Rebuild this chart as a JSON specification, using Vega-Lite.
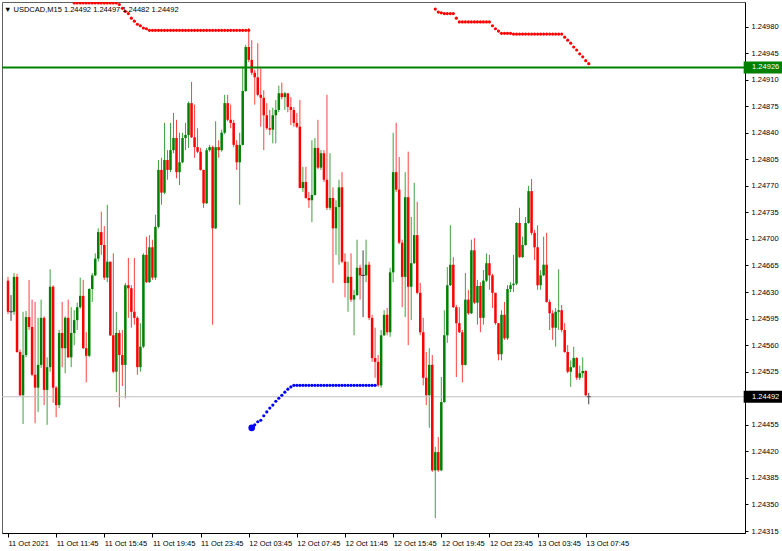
{
"$schema": "https://vega.github.io/schema/vega-lite/v6.json",
"width": 743,
"height": 531,
"autosize": "none",
"padding": {"left": 2, "top": 2, "right": 37, "bottom": 18},
"background": "#ffffff",
"config": {
  "view": {"stroke": "#606060", "strokeWidth": 1},
  "font": "Liberation Sans",
  "axis": {"labelFont": "Liberation Sans", "labelFontSize": 7.5, "labelColor": "#000000", "domainColor": "#000000", "tickColor": "#000000", "grid": false, "labelOverlap": false, "labelFlush": false, "labelBound": false}
},
"title": {"text": "▼  USDCAD,M15  1.24492 1.24497 1.24482 1.24492", "anchor": "start", "frame": "group", "orient": "top", "offset": -17, "baseline": "alphabetic", "dx": 2, "font": "Liberation Sans", "fontSize": 7.5, "fontWeight": "normal", "color": "#000000"},
"datasets": {
"candles": [
{"t":"2021-10-11T07:45Z","open":1.24645,"high":1.2465,"low":1.24601,"close":1.24604},
{"t":"2021-10-11T08:00Z","open":1.24604,"high":1.24626,"low":1.24592,"close":1.24604},
{"t":"2021-10-11T08:15Z","open":1.24604,"high":1.24655,"low":1.246,"close":1.2465},
{"t":"2021-10-11T08:30Z","open":1.2465,"high":1.24654,"low":1.2455,"close":1.24551},
{"t":"2021-10-11T08:45Z","open":1.24551,"high":1.24554,"low":1.24493,"close":1.24494},
{"t":"2021-10-11T09:00Z","open":1.24494,"high":1.24604,"low":1.24456,"close":1.24547},
{"t":"2021-10-11T09:15Z","open":1.24547,"high":1.24605,"low":1.24544,"close":1.24597},
{"t":"2021-10-11T09:30Z","open":1.24597,"high":1.24646,"low":1.2458,"close":1.24584},
{"t":"2021-10-11T09:45Z","open":1.24584,"high":1.2462,"low":1.24519,"close":1.24521},
{"t":"2021-10-11T10:00Z","open":1.24521,"high":1.24617,"low":1.24457,"close":1.24504},
{"t":"2021-10-11T10:15Z","open":1.24504,"high":1.24596,"low":1.24472,"close":1.24534},
{"t":"2021-10-11T10:30Z","open":1.24534,"high":1.2462,"low":1.2453,"close":1.24596},
{"t":"2021-10-11T10:45Z","open":1.24596,"high":1.24598,"low":1.24481,"close":1.24501},
{"t":"2021-10-11T11:00Z","open":1.24501,"high":1.24544,"low":1.24455,"close":1.24531},
{"t":"2021-10-11T11:15Z","open":1.24531,"high":1.2466,"low":1.24525,"close":1.24637},
{"t":"2021-10-11T11:30Z","open":1.24637,"high":1.24639,"low":1.24484,"close":1.24504},
{"t":"2021-10-11T11:45Z","open":1.24504,"high":1.24506,"low":1.24465,"close":1.24481},
{"t":"2021-10-11T12:00Z","open":1.24481,"high":1.2458,"low":1.24477,"close":1.24576},
{"t":"2021-10-11T12:15Z","open":1.24576,"high":1.24617,"low":1.24531,"close":1.24556},
{"t":"2021-10-11T12:30Z","open":1.24556,"high":1.24598,"low":1.24523,"close":1.24596},
{"t":"2021-10-11T12:45Z","open":1.24596,"high":1.2462,"low":1.24543,"close":1.24544},
{"t":"2021-10-11T13:00Z","open":1.24544,"high":1.2461,"low":1.24531,"close":1.24576},
{"t":"2021-10-11T13:15Z","open":1.24576,"high":1.24606,"low":1.2456,"close":1.24593},
{"t":"2021-10-11T13:30Z","open":1.24593,"high":1.24616,"low":1.2458,"close":1.2461},
{"t":"2021-10-11T13:45Z","open":1.2461,"high":1.24649,"low":1.24608,"close":1.24625},
{"t":"2021-10-11T14:00Z","open":1.24625,"high":1.24646,"low":1.24555,"close":1.24556},
{"t":"2021-10-11T14:15Z","open":1.24556,"high":1.24577,"low":1.24511,"close":1.24546},
{"t":"2021-10-11T14:30Z","open":1.24546,"high":1.24635,"low":1.24544,"close":1.24634},
{"t":"2021-10-11T14:45Z","open":1.24634,"high":1.24655,"low":1.24617,"close":1.24652},
{"t":"2021-10-11T15:00Z","open":1.24652,"high":1.24681,"low":1.24651,"close":1.24674},
{"t":"2021-10-11T15:15Z","open":1.24674,"high":1.24714,"low":1.2467,"close":1.24709},
{"t":"2021-10-11T15:30Z","open":1.24709,"high":1.24736,"low":1.24679,"close":1.24692},
{"t":"2021-10-11T15:45Z","open":1.24692,"high":1.24717,"low":1.24646,"close":1.24649},
{"t":"2021-10-11T16:00Z","open":1.24649,"high":1.24745,"low":1.24643,"close":1.2467},
{"t":"2021-10-11T16:15Z","open":1.2467,"high":1.2467,"low":1.24572,"close":1.24573},
{"t":"2021-10-11T16:30Z","open":1.24573,"high":1.24681,"low":1.24523,"close":1.24525},
{"t":"2021-10-11T16:45Z","open":1.24525,"high":1.24604,"low":1.24498,"close":1.24576},
{"t":"2021-10-11T17:00Z","open":1.24576,"high":1.2458,"low":1.24478,"close":1.24547},
{"t":"2021-10-11T17:15Z","open":1.24547,"high":1.2458,"low":1.24506,"close":1.24534},
{"t":"2021-10-11T17:30Z","open":1.24534,"high":1.24642,"low":1.2449,"close":1.24639},
{"t":"2021-10-11T17:45Z","open":1.24639,"high":1.24675,"low":1.24596,"close":1.24635},
{"t":"2021-10-11T18:00Z","open":1.24635,"high":1.24639,"low":1.24583,"close":1.24604},
{"t":"2021-10-11T18:15Z","open":1.24604,"high":1.24675,"low":1.24587,"close":1.24596},
{"t":"2021-10-11T18:30Z","open":1.24596,"high":1.24598,"low":1.24521,"close":1.24531},
{"t":"2021-10-11T18:45Z","open":1.24531,"high":1.24589,"low":1.24525,"close":1.24558},
{"t":"2021-10-11T19:00Z","open":1.24558,"high":1.24681,"low":1.24556,"close":1.24679},
{"t":"2021-10-11T19:15Z","open":1.24679,"high":1.24703,"low":1.24642,"close":1.24643},
{"t":"2021-10-11T19:30Z","open":1.24643,"high":1.24705,"low":1.24642,"close":1.24689},
{"t":"2021-10-11T19:45Z","open":1.24689,"high":1.24699,"low":1.24646,"close":1.24649},
{"t":"2021-10-11T20:00Z","open":1.24649,"high":1.24732,"low":1.24646,"close":1.24716},
{"t":"2021-10-11T20:15Z","open":1.24716,"high":1.24804,"low":1.24714,"close":1.24791},
{"t":"2021-10-11T20:30Z","open":1.24791,"high":1.24807,"low":1.24745,"close":1.24761},
{"t":"2021-10-11T20:45Z","open":1.24761,"high":1.24853,"low":1.24759,"close":1.24804},
{"t":"2021-10-11T21:00Z","open":1.24804,"high":1.24817,"low":1.24778,"close":1.24791},
{"t":"2021-10-11T21:15Z","open":1.24791,"high":1.24853,"low":1.24788,"close":1.24817},
{"t":"2021-10-11T21:30Z","open":1.24817,"high":1.24866,"low":1.24813,"close":1.24833},
{"t":"2021-10-11T21:45Z","open":1.24833,"high":1.24857,"low":1.2478,"close":1.24788},
{"t":"2021-10-11T22:00Z","open":1.24788,"high":1.2484,"low":1.24771,"close":1.24801},
{"t":"2021-10-11T22:15Z","open":1.24801,"high":1.2484,"low":1.248,"close":1.24833},
{"t":"2021-10-11T22:30Z","open":1.24833,"high":1.24853,"low":1.24817,"close":1.24837},
{"t":"2021-10-11T22:45Z","open":1.24837,"high":1.24881,"low":1.2482,"close":1.24879},
{"t":"2021-10-11T23:00Z","open":1.24879,"high":1.24907,"low":1.24833,"close":1.24834},
{"t":"2021-10-11T23:15Z","open":1.24834,"high":1.24877,"low":1.24807,"close":1.24821},
{"t":"2021-10-11T23:30Z","open":1.24821,"high":1.24846,"low":1.24813,"close":1.24815},
{"t":"2021-10-11T23:45Z","open":1.24815,"high":1.2482,"low":1.2479,"close":1.24791},
{"t":"2021-10-12T00:00Z","open":1.24791,"high":1.24791,"low":1.24741,"close":1.24747},
{"t":"2021-10-12T00:15Z","open":1.24747,"high":1.2482,"low":1.24746,"close":1.24817},
{"t":"2021-10-12T00:30Z","open":1.24817,"high":1.24824,"low":1.24815,"close":1.24821},
{"t":"2021-10-12T00:45Z","open":1.24821,"high":1.24823,"low":1.24587,"close":1.24714},
{"t":"2021-10-12T01:00Z","open":1.24714,"high":1.24855,"low":1.24713,"close":1.24821},
{"t":"2021-10-12T01:15Z","open":1.24821,"high":1.2483,"low":1.24807,"close":1.24817},
{"t":"2021-10-12T01:30Z","open":1.24817,"high":1.24844,"low":1.24815,"close":1.2484},
{"t":"2021-10-12T01:45Z","open":1.2484,"high":1.2489,"low":1.24838,"close":1.24879},
{"t":"2021-10-12T02:00Z","open":1.24879,"high":1.2489,"low":1.24855,"close":1.24857},
{"t":"2021-10-12T02:15Z","open":1.24857,"high":1.24877,"low":1.24846,"close":1.24853},
{"t":"2021-10-12T02:30Z","open":1.24853,"high":1.24857,"low":1.24821,"close":1.24824},
{"t":"2021-10-12T02:45Z","open":1.24824,"high":1.2483,"low":1.24791,"close":1.24801},
{"t":"2021-10-12T03:00Z","open":1.24801,"high":1.2484,"low":1.24745,"close":1.24824},
{"t":"2021-10-12T03:15Z","open":1.24824,"high":1.24927,"low":1.24823,"close":1.24895},
{"t":"2021-10-12T03:30Z","open":1.24895,"high":1.24956,"low":1.24894,"close":1.24953},
{"t":"2021-10-12T03:45Z","open":1.24953,"high":1.24978,"low":1.24933,"close":1.24936},
{"t":"2021-10-12T04:00Z","open":1.24936,"high":1.24962,"low":1.24916,"close":1.24919},
{"t":"2021-10-12T04:15Z","open":1.24919,"high":1.24923,"low":1.24877,"close":1.24913},
{"t":"2021-10-12T04:30Z","open":1.24913,"high":1.24958,"low":1.24888,"close":1.2489},
{"t":"2021-10-12T04:45Z","open":1.2489,"high":1.24925,"low":1.24848,"close":1.24886},
{"t":"2021-10-12T05:00Z","open":1.24886,"high":1.24896,"low":1.24817,"close":1.24863},
{"t":"2021-10-12T05:15Z","open":1.24863,"high":1.24879,"low":1.24844,"close":1.24846},
{"t":"2021-10-12T05:30Z","open":1.24846,"high":1.2487,"low":1.24837,"close":1.24844},
{"t":"2021-10-12T05:45Z","open":1.24844,"high":1.24873,"low":1.24826,"close":1.24863},
{"t":"2021-10-12T06:00Z","open":1.24863,"high":1.24883,"low":1.24826,"close":1.2487},
{"t":"2021-10-12T06:15Z","open":1.2487,"high":1.24902,"low":1.24867,"close":1.24892},
{"t":"2021-10-12T06:30Z","open":1.24892,"high":1.24906,"low":1.24884,"close":1.24887},
{"t":"2021-10-12T06:45Z","open":1.24887,"high":1.24894,"low":1.2487,"close":1.24892},
{"t":"2021-10-12T07:00Z","open":1.24892,"high":1.24892,"low":1.24867,"close":1.24874},
{"t":"2021-10-12T07:15Z","open":1.24874,"high":1.24887,"low":1.2485,"close":1.2487},
{"t":"2021-10-12T07:30Z","open":1.2487,"high":1.24874,"low":1.24848,"close":1.24853},
{"t":"2021-10-12T07:45Z","open":1.24853,"high":1.24866,"low":1.24846,"close":1.24848},
{"t":"2021-10-12T08:00Z","open":1.24848,"high":1.24883,"low":1.24767,"close":1.24767},
{"t":"2021-10-12T08:15Z","open":1.24767,"high":1.24795,"low":1.24762,"close":1.24775},
{"t":"2021-10-12T08:30Z","open":1.24775,"high":1.24795,"low":1.24753,"close":1.24754},
{"t":"2021-10-12T08:45Z","open":1.24754,"high":1.24762,"low":1.24741,"close":1.24751},
{"t":"2021-10-12T09:00Z","open":1.24751,"high":1.2483,"low":1.24722,"close":1.24758},
{"t":"2021-10-12T09:15Z","open":1.24758,"high":1.24833,"low":1.24757,"close":1.2482},
{"t":"2021-10-12T09:30Z","open":1.2482,"high":1.24857,"low":1.24792,"close":1.24794},
{"t":"2021-10-12T09:45Z","open":1.24794,"high":1.24817,"low":1.24791,"close":1.24813},
{"t":"2021-10-12T10:00Z","open":1.24813,"high":1.24817,"low":1.24775,"close":1.24778},
{"t":"2021-10-12T10:15Z","open":1.24778,"high":1.2489,"low":1.24738,"close":1.24741},
{"t":"2021-10-12T10:30Z","open":1.24741,"high":1.24813,"low":1.24738,"close":1.24754},
{"t":"2021-10-12T10:45Z","open":1.24754,"high":1.24768,"low":1.24642,"close":1.24714},
{"t":"2021-10-12T11:00Z","open":1.24714,"high":1.24751,"low":1.24679,"close":1.24742},
{"t":"2021-10-12T11:15Z","open":1.24742,"high":1.24778,"low":1.24666,"close":1.24768},
{"t":"2021-10-12T11:30Z","open":1.24768,"high":1.24788,"low":1.24668,"close":1.2467},
{"t":"2021-10-12T11:45Z","open":1.2467,"high":1.24681,"low":1.24623,"close":1.24642},
{"t":"2021-10-12T12:00Z","open":1.24642,"high":1.2467,"low":1.24604,"close":1.2465},
{"t":"2021-10-12T12:15Z","open":1.2465,"high":1.24681,"low":1.24617,"close":1.2462},
{"t":"2021-10-12T12:30Z","open":1.2462,"high":1.24633,"low":1.24573,"close":1.24626},
{"t":"2021-10-12T12:45Z","open":1.24626,"high":1.24699,"low":1.24625,"close":1.24662},
{"t":"2021-10-12T13:00Z","open":1.24662,"high":1.24666,"low":1.2462,"close":1.24652},
{"t":"2021-10-12T13:15Z","open":1.24652,"high":1.24685,"low":1.24597,"close":1.24652},
{"t":"2021-10-12T13:30Z","open":1.24652,"high":1.24699,"low":1.24643,"close":1.24666},
{"t":"2021-10-12T13:45Z","open":1.24666,"high":1.2467,"low":1.24593,"close":1.24596},
{"t":"2021-10-12T14:00Z","open":1.24596,"high":1.246,"low":1.24538,"close":1.24543},
{"t":"2021-10-12T14:15Z","open":1.24543,"high":1.24583,"low":1.24517,"close":1.24538},
{"t":"2021-10-12T14:30Z","open":1.24538,"high":1.24547,"low":1.24505,"close":1.24507},
{"t":"2021-10-12T14:45Z","open":1.24507,"high":1.2458,"low":1.24504,"close":1.24573},
{"t":"2021-10-12T15:00Z","open":1.24573,"high":1.24606,"low":1.24572,"close":1.246},
{"t":"2021-10-12T15:15Z","open":1.246,"high":1.24609,"low":1.24573,"close":1.24577},
{"t":"2021-10-12T15:30Z","open":1.24577,"high":1.24662,"low":1.24571,"close":1.24656},
{"t":"2021-10-12T15:45Z","open":1.24656,"high":1.2484,"low":1.24643,"close":1.24788},
{"t":"2021-10-12T16:00Z","open":1.24788,"high":1.24853,"low":1.24762,"close":1.24765},
{"t":"2021-10-12T16:15Z","open":1.24765,"high":1.24808,"low":1.24693,"close":1.24695},
{"t":"2021-10-12T16:30Z","open":1.24695,"high":1.24699,"low":1.2461,"close":1.2465},
{"t":"2021-10-12T16:45Z","open":1.2465,"high":1.24788,"low":1.24597,"close":1.24755},
{"t":"2021-10-12T17:00Z","open":1.24755,"high":1.24815,"low":1.2456,"close":1.24637},
{"t":"2021-10-12T17:15Z","open":1.24637,"high":1.24729,"low":1.24593,"close":1.24668},
{"t":"2021-10-12T17:30Z","open":1.24668,"high":1.24774,"low":1.24667,"close":1.24705},
{"t":"2021-10-12T17:45Z","open":1.24705,"high":1.24749,"low":1.24627,"close":1.24629},
{"t":"2021-10-12T18:00Z","open":1.24629,"high":1.24642,"low":1.24573,"close":1.24577},
{"t":"2021-10-12T18:15Z","open":1.24577,"high":1.24596,"low":1.24507,"close":1.24517},
{"t":"2021-10-12T18:30Z","open":1.24517,"high":1.24551,"low":1.24481,"close":1.24494},
{"t":"2021-10-12T18:45Z","open":1.24494,"high":1.24556,"low":1.24451,"close":1.24534},
{"t":"2021-10-12T19:00Z","open":1.24534,"high":1.24547,"low":1.24393,"close":1.24395},
{"t":"2021-10-12T19:15Z","open":1.24395,"high":1.24426,"low":1.24332,"close":1.24419},
{"t":"2021-10-12T19:30Z","open":1.24419,"high":1.24439,"low":1.24393,"close":1.24395},
{"t":"2021-10-12T19:45Z","open":1.24395,"high":1.24518,"low":1.24394,"close":1.24485},
{"t":"2021-10-12T20:00Z","open":1.24485,"high":1.24606,"low":1.24484,"close":1.24573},
{"t":"2021-10-12T20:15Z","open":1.24573,"high":1.24663,"low":1.24563,"close":1.24639},
{"t":"2021-10-12T20:30Z","open":1.24639,"high":1.24718,"low":1.24638,"close":1.24666},
{"t":"2021-10-12T20:45Z","open":1.24666,"high":1.24676,"low":1.24609,"close":1.2461},
{"t":"2021-10-12T21:00Z","open":1.2461,"high":1.24613,"low":1.24518,"close":1.24589},
{"t":"2021-10-12T21:15Z","open":1.24589,"high":1.2461,"low":1.24576,"close":1.24577},
{"t":"2021-10-12T21:30Z","open":1.24577,"high":1.2458,"low":1.24511,"close":1.24534},
{"t":"2021-10-12T21:45Z","open":1.24534,"high":1.24655,"low":1.24533,"close":1.2462},
{"t":"2021-10-12T22:00Z","open":1.2462,"high":1.24633,"low":1.246,"close":1.24602},
{"t":"2021-10-12T22:15Z","open":1.24602,"high":1.24699,"low":1.24601,"close":1.24685},
{"t":"2021-10-12T22:30Z","open":1.24685,"high":1.24701,"low":1.24614,"close":1.24616},
{"t":"2021-10-12T22:45Z","open":1.24616,"high":1.24646,"low":1.24587,"close":1.24638},
{"t":"2021-10-12T23:00Z","open":1.24638,"high":1.24643,"low":1.24577,"close":1.24596},
{"t":"2021-10-12T23:15Z","open":1.24596,"high":1.24659,"low":1.24587,"close":1.24645},
{"t":"2021-10-12T23:30Z","open":1.24645,"high":1.24681,"low":1.24643,"close":1.24668},
{"t":"2021-10-12T23:45Z","open":1.24668,"high":1.24679,"low":1.24633,"close":1.24652},
{"t":"2021-10-13T00:00Z","open":1.24652,"high":1.24654,"low":1.24609,"close":1.24629},
{"t":"2021-10-13T00:15Z","open":1.24629,"high":1.24629,"low":1.24587,"close":1.24589},
{"t":"2021-10-13T00:30Z","open":1.24589,"high":1.24589,"low":1.2454,"close":1.24548},
{"t":"2021-10-13T00:45Z","open":1.24548,"high":1.24606,"low":1.2454,"close":1.246},
{"t":"2021-10-13T01:00Z","open":1.246,"high":1.24617,"low":1.24567,"close":1.24569},
{"t":"2021-10-13T01:15Z","open":1.24569,"high":1.24639,"low":1.24567,"close":1.24634},
{"t":"2021-10-13T01:30Z","open":1.24634,"high":1.24643,"low":1.2463,"close":1.24639},
{"t":"2021-10-13T01:45Z","open":1.24639,"high":1.24679,"low":1.2463,"close":1.24641},
{"t":"2021-10-13T02:00Z","open":1.24641,"high":1.24722,"low":1.24639,"close":1.24721},
{"t":"2021-10-13T02:15Z","open":1.24721,"high":1.24741,"low":1.24675,"close":1.24676},
{"t":"2021-10-13T02:30Z","open":1.24676,"high":1.24703,"low":1.24675,"close":1.24692},
{"t":"2021-10-13T02:45Z","open":1.24692,"high":1.24729,"low":1.24691,"close":1.24721},
{"t":"2021-10-13T03:00Z","open":1.24721,"high":1.2477,"low":1.2472,"close":1.24763},
{"t":"2021-10-13T03:15Z","open":1.24763,"high":1.24779,"low":1.24705,"close":1.24708},
{"t":"2021-10-13T03:30Z","open":1.24708,"high":1.24712,"low":1.24672,"close":1.24689},
{"t":"2021-10-13T03:45Z","open":1.24689,"high":1.24718,"low":1.24633,"close":1.24639},
{"t":"2021-10-13T04:00Z","open":1.24639,"high":1.24659,"low":1.24633,"close":1.24652},
{"t":"2021-10-13T04:15Z","open":1.24652,"high":1.24703,"low":1.24651,"close":1.24666},
{"t":"2021-10-13T04:30Z","open":1.24666,"high":1.24708,"low":1.24616,"close":1.24617},
{"t":"2021-10-13T04:45Z","open":1.24617,"high":1.2462,"low":1.2458,"close":1.24602},
{"t":"2021-10-13T05:00Z","open":1.24602,"high":1.24606,"low":1.24567,"close":1.24583},
{"t":"2021-10-13T05:15Z","open":1.24583,"high":1.24609,"low":1.24558,"close":1.24604},
{"t":"2021-10-13T05:30Z","open":1.24604,"high":1.2466,"low":1.2458,"close":1.24606},
{"t":"2021-10-13T05:45Z","open":1.24606,"high":1.24613,"low":1.24577,"close":1.2458},
{"t":"2021-10-13T06:00Z","open":1.2458,"high":1.24589,"low":1.2455,"close":1.24551},
{"t":"2021-10-13T06:15Z","open":1.24551,"high":1.2456,"low":1.24523,"close":1.24525},
{"t":"2021-10-13T06:30Z","open":1.24525,"high":1.2454,"low":1.24505,"close":1.24531},
{"t":"2021-10-13T06:45Z","open":1.24531,"high":1.24558,"low":1.2453,"close":1.24543},
{"t":"2021-10-13T07:00Z","open":1.24543,"high":1.24544,"low":1.24514,"close":1.24517},
{"t":"2021-10-13T07:15Z","open":1.24517,"high":1.24533,"low":1.24514,"close":1.24523},
{"t":"2021-10-13T07:30Z","open":1.24523,"high":1.24544,"low":1.24517,"close":1.24526},
{"t":"2021-10-13T07:45Z","open":1.24526,"high":1.24527,"low":1.24492,"close":1.24494},
{"t":"2021-10-13T08:00Z","open":1.24492,"high":1.24497,"low":1.24482,"close":1.24492}
],
"dots": [
{"t":"2021-10-11T13:15Z","price":1.25011,"side":"res"},
{"t":"2021-10-11T13:30Z","price":1.25011,"side":"res"},
{"t":"2021-10-11T13:45Z","price":1.25011,"side":"res"},
{"t":"2021-10-11T14:00Z","price":1.25011,"side":"res"},
{"t":"2021-10-11T14:15Z","price":1.25011,"side":"res"},
{"t":"2021-10-11T14:30Z","price":1.25011,"side":"res"},
{"t":"2021-10-11T14:45Z","price":1.25011,"side":"res"},
{"t":"2021-10-11T15:00Z","price":1.25011,"side":"res"},
{"t":"2021-10-11T15:15Z","price":1.25011,"side":"res"},
{"t":"2021-10-11T15:30Z","price":1.25011,"side":"res"},
{"t":"2021-10-11T15:45Z","price":1.25011,"side":"res"},
{"t":"2021-10-11T16:00Z","price":1.25011,"side":"res"},
{"t":"2021-10-11T16:15Z","price":1.25011,"side":"res"},
{"t":"2021-10-11T16:30Z","price":1.25011,"side":"res"},
{"t":"2021-10-11T16:45Z","price":1.25011,"side":"res"},
{"t":"2021-10-11T17:00Z","price":1.25009,"side":"res"},
{"t":"2021-10-11T17:15Z","price":1.25004,"side":"res"},
{"t":"2021-10-11T17:30Z","price":1.25,"side":"res"},
{"t":"2021-10-11T17:45Z","price":1.24997,"side":"res"},
{"t":"2021-10-11T18:00Z","price":1.24991,"side":"res"},
{"t":"2021-10-11T18:15Z","price":1.24987,"side":"res"},
{"t":"2021-10-11T18:30Z","price":1.24983,"side":"res"},
{"t":"2021-10-11T18:45Z","price":1.24981,"side":"res"},
{"t":"2021-10-11T19:00Z","price":1.24978,"side":"res"},
{"t":"2021-10-11T19:15Z","price":1.24977,"side":"res"},
{"t":"2021-10-11T19:30Z","price":1.24975,"side":"res"},
{"t":"2021-10-11T19:45Z","price":1.24975,"side":"res"},
{"t":"2021-10-11T20:00Z","price":1.24975,"side":"res"},
{"t":"2021-10-11T20:15Z","price":1.24975,"side":"res"},
{"t":"2021-10-11T20:30Z","price":1.24975,"side":"res"},
{"t":"2021-10-11T20:45Z","price":1.24975,"side":"res"},
{"t":"2021-10-11T21:00Z","price":1.24975,"side":"res"},
{"t":"2021-10-11T21:15Z","price":1.24975,"side":"res"},
{"t":"2021-10-11T21:30Z","price":1.24975,"side":"res"},
{"t":"2021-10-11T21:45Z","price":1.24975,"side":"res"},
{"t":"2021-10-11T22:00Z","price":1.24975,"side":"res"},
{"t":"2021-10-11T22:15Z","price":1.24975,"side":"res"},
{"t":"2021-10-11T22:30Z","price":1.24975,"side":"res"},
{"t":"2021-10-11T22:45Z","price":1.24975,"side":"res"},
{"t":"2021-10-11T23:00Z","price":1.24975,"side":"res"},
{"t":"2021-10-11T23:15Z","price":1.24975,"side":"res"},
{"t":"2021-10-11T23:30Z","price":1.24975,"side":"res"},
{"t":"2021-10-11T23:45Z","price":1.24975,"side":"res"},
{"t":"2021-10-12T00:00Z","price":1.24975,"side":"res"},
{"t":"2021-10-12T00:15Z","price":1.24975,"side":"res"},
{"t":"2021-10-12T00:30Z","price":1.24975,"side":"res"},
{"t":"2021-10-12T00:45Z","price":1.24975,"side":"res"},
{"t":"2021-10-12T01:00Z","price":1.24975,"side":"res"},
{"t":"2021-10-12T01:15Z","price":1.24975,"side":"res"},
{"t":"2021-10-12T01:30Z","price":1.24975,"side":"res"},
{"t":"2021-10-12T01:45Z","price":1.24975,"side":"res"},
{"t":"2021-10-12T02:00Z","price":1.24975,"side":"res"},
{"t":"2021-10-12T02:15Z","price":1.24975,"side":"res"},
{"t":"2021-10-12T02:30Z","price":1.24975,"side":"res"},
{"t":"2021-10-12T02:45Z","price":1.24975,"side":"res"},
{"t":"2021-10-12T03:00Z","price":1.24975,"side":"res"},
{"t":"2021-10-12T03:15Z","price":1.24975,"side":"res"},
{"t":"2021-10-12T03:30Z","price":1.24975,"side":"res"},
{"t":"2021-10-12T03:45Z","price":1.24975,"side":"res"},
{"t":"2021-10-12T04:00Z","price":1.24451,"side":"sup"},
{"t":"2021-10-12T04:15Z","price":1.24455,"side":"sup"},
{"t":"2021-10-12T04:30Z","price":1.24459,"side":"sup"},
{"t":"2021-10-12T04:45Z","price":1.24461,"side":"sup"},
{"t":"2021-10-12T05:00Z","price":1.24467,"side":"sup"},
{"t":"2021-10-12T05:15Z","price":1.24472,"side":"sup"},
{"t":"2021-10-12T05:30Z","price":1.24477,"side":"sup"},
{"t":"2021-10-12T05:45Z","price":1.24481,"side":"sup"},
{"t":"2021-10-12T06:00Z","price":1.24486,"side":"sup"},
{"t":"2021-10-12T06:15Z","price":1.2449,"side":"sup"},
{"t":"2021-10-12T06:30Z","price":1.24494,"side":"sup"},
{"t":"2021-10-12T06:45Z","price":1.24498,"side":"sup"},
{"t":"2021-10-12T07:00Z","price":1.24502,"side":"sup"},
{"t":"2021-10-12T07:15Z","price":1.24505,"side":"sup"},
{"t":"2021-10-12T07:30Z","price":1.24507,"side":"sup"},
{"t":"2021-10-12T07:45Z","price":1.24507,"side":"sup"},
{"t":"2021-10-12T08:00Z","price":1.24507,"side":"sup"},
{"t":"2021-10-12T08:15Z","price":1.24507,"side":"sup"},
{"t":"2021-10-12T08:30Z","price":1.24507,"side":"sup"},
{"t":"2021-10-12T08:45Z","price":1.24507,"side":"sup"},
{"t":"2021-10-12T09:00Z","price":1.24507,"side":"sup"},
{"t":"2021-10-12T09:15Z","price":1.24507,"side":"sup"},
{"t":"2021-10-12T09:30Z","price":1.24507,"side":"sup"},
{"t":"2021-10-12T09:45Z","price":1.24507,"side":"sup"},
{"t":"2021-10-12T10:00Z","price":1.24507,"side":"sup"},
{"t":"2021-10-12T10:15Z","price":1.24507,"side":"sup"},
{"t":"2021-10-12T10:30Z","price":1.24507,"side":"sup"},
{"t":"2021-10-12T10:45Z","price":1.24507,"side":"sup"},
{"t":"2021-10-12T11:00Z","price":1.24507,"side":"sup"},
{"t":"2021-10-12T11:15Z","price":1.24507,"side":"sup"},
{"t":"2021-10-12T11:30Z","price":1.24507,"side":"sup"},
{"t":"2021-10-12T11:45Z","price":1.24507,"side":"sup"},
{"t":"2021-10-12T12:00Z","price":1.24507,"side":"sup"},
{"t":"2021-10-12T12:15Z","price":1.24507,"side":"sup"},
{"t":"2021-10-12T12:30Z","price":1.24507,"side":"sup"},
{"t":"2021-10-12T12:45Z","price":1.24507,"side":"sup"},
{"t":"2021-10-12T13:00Z","price":1.24507,"side":"sup"},
{"t":"2021-10-12T13:15Z","price":1.24507,"side":"sup"},
{"t":"2021-10-12T13:30Z","price":1.24507,"side":"sup"},
{"t":"2021-10-12T13:45Z","price":1.24507,"side":"sup"},
{"t":"2021-10-12T14:00Z","price":1.24507,"side":"sup"},
{"t":"2021-10-12T14:15Z","price":1.24507,"side":"sup"},
{"t":"2021-10-12T19:15Z","price":1.25003,"side":"res"},
{"t":"2021-10-12T19:30Z","price":1.24999,"side":"res"},
{"t":"2021-10-12T19:45Z","price":1.24998,"side":"res"},
{"t":"2021-10-12T20:00Z","price":1.24997,"side":"res"},
{"t":"2021-10-12T20:15Z","price":1.24997,"side":"res"},
{"t":"2021-10-12T20:30Z","price":1.24997,"side":"res"},
{"t":"2021-10-12T20:45Z","price":1.24997,"side":"res"},
{"t":"2021-10-12T21:00Z","price":1.24991,"side":"res"},
{"t":"2021-10-12T21:15Z","price":1.24986,"side":"res"},
{"t":"2021-10-12T21:30Z","price":1.24986,"side":"res"},
{"t":"2021-10-12T21:45Z","price":1.24986,"side":"res"},
{"t":"2021-10-12T22:00Z","price":1.24986,"side":"res"},
{"t":"2021-10-12T22:15Z","price":1.24986,"side":"res"},
{"t":"2021-10-12T22:30Z","price":1.24986,"side":"res"},
{"t":"2021-10-12T22:45Z","price":1.24986,"side":"res"},
{"t":"2021-10-12T23:00Z","price":1.24986,"side":"res"},
{"t":"2021-10-12T23:15Z","price":1.24986,"side":"res"},
{"t":"2021-10-12T23:30Z","price":1.24986,"side":"res"},
{"t":"2021-10-12T23:45Z","price":1.24986,"side":"res"},
{"t":"2021-10-13T00:00Z","price":1.24981,"side":"res"},
{"t":"2021-10-13T00:15Z","price":1.24977,"side":"res"},
{"t":"2021-10-13T00:30Z","price":1.24974,"side":"res"},
{"t":"2021-10-13T00:45Z","price":1.24971,"side":"res"},
{"t":"2021-10-13T01:00Z","price":1.24971,"side":"res"},
{"t":"2021-10-13T01:15Z","price":1.24971,"side":"res"},
{"t":"2021-10-13T01:30Z","price":1.24971,"side":"res"},
{"t":"2021-10-13T01:45Z","price":1.2497,"side":"res"},
{"t":"2021-10-13T02:00Z","price":1.2497,"side":"res"},
{"t":"2021-10-13T02:15Z","price":1.2497,"side":"res"},
{"t":"2021-10-13T02:30Z","price":1.2497,"side":"res"},
{"t":"2021-10-13T02:45Z","price":1.2497,"side":"res"},
{"t":"2021-10-13T03:00Z","price":1.2497,"side":"res"},
{"t":"2021-10-13T03:15Z","price":1.2497,"side":"res"},
{"t":"2021-10-13T03:30Z","price":1.2497,"side":"res"},
{"t":"2021-10-13T03:45Z","price":1.2497,"side":"res"},
{"t":"2021-10-13T04:00Z","price":1.2497,"side":"res"},
{"t":"2021-10-13T04:15Z","price":1.2497,"side":"res"},
{"t":"2021-10-13T04:30Z","price":1.2497,"side":"res"},
{"t":"2021-10-13T04:45Z","price":1.2497,"side":"res"},
{"t":"2021-10-13T05:00Z","price":1.2497,"side":"res"},
{"t":"2021-10-13T05:15Z","price":1.2497,"side":"res"},
{"t":"2021-10-13T05:30Z","price":1.2497,"side":"res"},
{"t":"2021-10-13T05:45Z","price":1.2497,"side":"res"},
{"t":"2021-10-13T06:00Z","price":1.24966,"side":"res"},
{"t":"2021-10-13T06:15Z","price":1.24962,"side":"res"},
{"t":"2021-10-13T06:30Z","price":1.24958,"side":"res"},
{"t":"2021-10-13T06:45Z","price":1.24953,"side":"res"},
{"t":"2021-10-13T07:00Z","price":1.24949,"side":"res"},
{"t":"2021-10-13T07:15Z","price":1.24944,"side":"res"},
{"t":"2021-10-13T07:30Z","price":1.2494,"side":"res"},
{"t":"2021-10-13T07:45Z","price":1.24935,"side":"res"},
{"t":"2021-10-13T08:00Z","price":1.24931,"side":"res"}
],
"levels": [
{"price":1.24926,"kind":"level"},
{"price":1.24492,"kind":"bid"}
]
},
"layer": [
{
  "data": {"name": "candles"},
  "mark": {"type": "rule", "strokeWidth": 1, "opacity": 0.75},
  "encoding": {
    "x": {"field": "t", "type": "temporal", "title": null,
      "scale": {"type": "utc", "domain": [1633938000000, 1634157240000], "nice": false},
      "axis": {"values": [1633938300000,1633952700000,1633967100000,1633981500000,1633995900000,1634010300000,1634024700000,1634039100000,1634053500000,1634067900000,1634082300000,1634096700000,1634111100000],
        "labelExpr": "datum.value < 1633939000000 ? '11 Oct 2021' : utcFormat(datum.value, '%d %b %H:%M')",
        "labelAlign": "left", "labelBaseline": "top", "labelPadding": 2, "tickSize": 4, "tickCount": 40, "title": null, "grid": false, "labelOverlap": false, "labelFlush": false}},
    "y": {"field": "low", "type": "quantitative", "title": null,
      "scale": {"domain": [1.243124, 1.250123], "nice": false, "zero": false},
      "axis": {"orient": "right", "values": [1.24315,1.2435,1.24385,1.2442,1.24455,1.24525,1.2456,1.24595,1.2463,1.24665,1.247,1.24735,1.2477,1.24805,1.2484,1.24875,1.2491,1.24945,1.2498],
        "format": ".5f", "tickSize": 3, "labelPadding": 3, "tickCount": 40, "title": null, "grid": false, "labelOverlap": false}},
    "y2": {"field": "high"},
    "color": {"condition": [{"test": "datum.close > datum.open", "value": "#008000"}, {"test": "datum.close < datum.open", "value": "#ff0000"}], "value": "#000000"}
  }
},
{
  "data": {"name": "levels"},
  "transform": [{"filter": "datum.kind == 'bid'"}],
  "mark": {"type": "rule", "color": "#c0c0c0", "strokeWidth": 1},
  "encoding": {"y": {"field": "price", "type": "quantitative", "title": null}}
},
{
  "data": {"name": "candles"},
  "mark": {"type": "bar", "width": 2.5},
  "encoding": {
    "x": {"field": "t", "type": "temporal", "title": null},
    "y": {"field": "open", "type": "quantitative", "title": null},
    "y2": {"field": "close"},
    "color": {"condition": [{"test": "datum.close > datum.open", "value": "#008000"}, {"test": "datum.close < datum.open", "value": "#ff0000"}], "value": "#000000"}
  }
},
{
  "data": {"name": "candles"},
  "transform": [{"filter": "datum.open == datum.close"}],
  "mark": {"type": "tick", "orient": "horizontal", "size": 4, "thickness": 1, "color": "#000000"},
  "encoding": {
    "x": {"field": "t", "type": "temporal", "title": null},
    "y": {"field": "close", "type": "quantitative", "title": null}
  }
},
{
  "data": {"name": "levels"},
  "transform": [{"filter": "datum.kind == 'level'"}],
  "mark": {"type": "rule", "color": "#008000", "strokeWidth": 2},
  "encoding": {"y": {"field": "price", "type": "quantitative", "title": null}}
},
{
  "data": {"name": "dots"},
  "mark": {"type": "point", "filled": true, "size": 10, "opacity": 1, "clip": true},
  "encoding": {
    "x": {"field": "t", "type": "temporal", "title": null},
    "y": {"field": "price", "type": "quantitative", "title": null},
    "color": {"field": "side", "type": "nominal", "scale": {"domain": ["res", "sup"], "range": ["#ff0000", "#0000ff"]}, "legend": null}
  }
},
{
  "data": {"name": "dots"},
  "transform": [{"filter": "datum.side == 'sup' && datum.price < 1.24452"}],
  "mark": {"type": "point", "filled": true, "size": 45, "opacity": 1, "color": "#0000ff"},
  "encoding": {
    "x": {"field": "t", "type": "temporal", "title": null},
    "y": {"field": "price", "type": "quantitative", "title": null}
  }
},
{
  "mark": {"type": "point", "shape": "triangle-down", "filled": true, "size": 30, "color": "#a0a0a0", "opacity": 1},
  "encoding": {
    "x": {"datum": {"year": 2021, "month": 10, "date": 13, "hours": 8, "minutes": 21, "utc": true}, "type": "temporal", "title": null},
    "y": {"datum": 1.25008, "type": "quantitative", "title": null}
  }
},
{
  "data": {"name": "levels"},
  "mark": {"type": "point", "shape": "M-1,-0.3L1,-0.3L1,0.3L-1,0.3Z", "filled": true, "size": 1600, "opacity": 1, "strokeWidth": 0, "clip": false},
  "encoding": {
    "x": {"datum": {"year": 2021, "month": 10, "date": 13, "hours": 22, "minutes": 32, "utc": true}, "type": "temporal", "title": null},
    "y": {"field": "price", "type": "quantitative", "title": null},
    "fill": {"field": "kind", "type": "nominal", "scale": {"domain": ["level", "bid"], "range": ["#008000", "#000000"]}, "legend": null}
  }
},
{
  "data": {"name": "levels"},
  "mark": {"type": "text", "color": "#ffffff", "font": "Liberation Sans", "fontSize": 7.5, "align": "center", "baseline": "middle", "dx": 2, "clip": false},
  "encoding": {
    "x": {"datum": {"year": 2021, "month": 10, "date": 13, "hours": 22, "minutes": 32, "utc": true}, "type": "temporal", "title": null},
    "y": {"field": "price", "type": "quantitative", "title": null},
    "text": {"field": "price", "type": "quantitative", "format": ".5f"}
  }
}
]
}
